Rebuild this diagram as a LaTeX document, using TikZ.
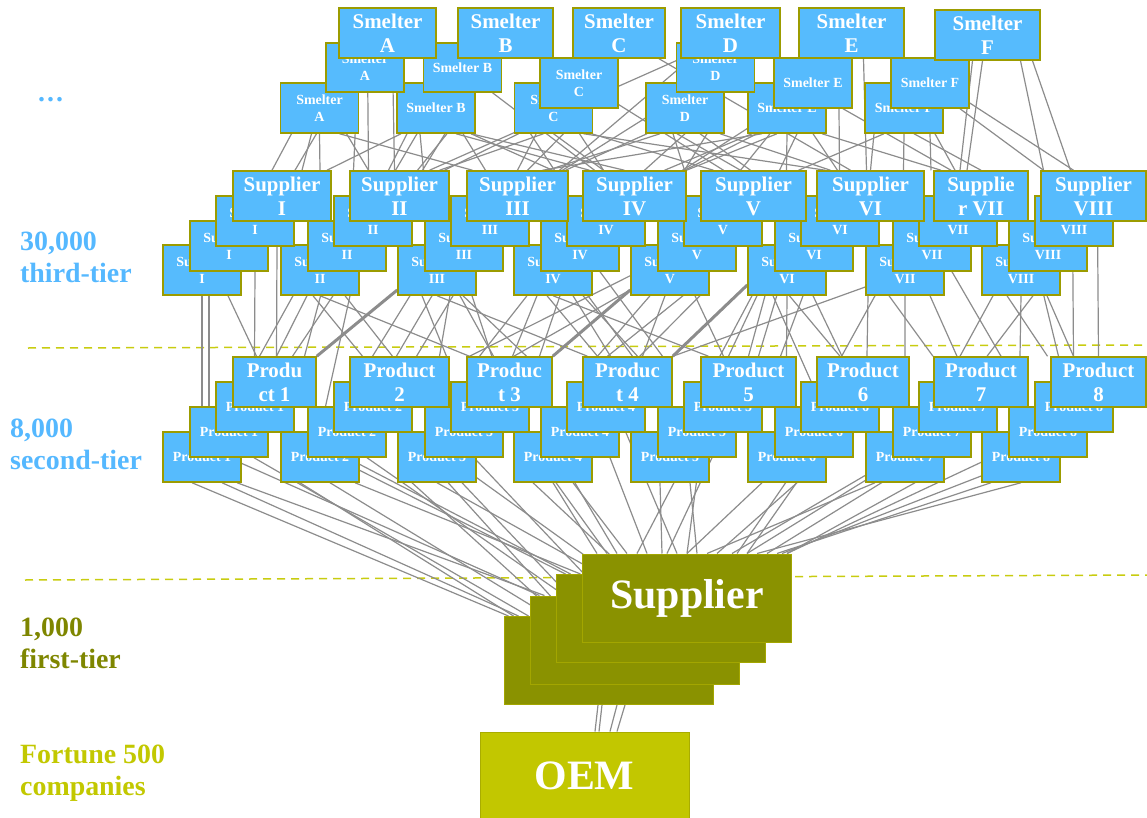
\documentclass[tikz,border=0pt]{standalone}
\usepackage{fontspec}
\setmainfont{Liberation Serif}
\usetikzlibrary{calc}
\definecolor{boxblue}{HTML}{56BBFD}
\definecolor{boxline}{HTML}{9C9C00}
\definecolor{stackfill}{HTML}{8A9200}
\definecolor{stackline}{HTML}{A3A600}
\definecolor{oemfill}{HTML}{C2C700}
\definecolor{oemline}{HTML}{A9AC00}
\definecolor{lblblue}{HTML}{55B8FF}
\definecolor{lblolive}{HTML}{7E8600}
\definecolor{lblyellow}{HTML}{C2C800}
\definecolor{dashcol}{HTML}{C8CC10}
\definecolor{linkgray}{HTML}{8C8C8C}
\pgfdeclarelayer{background}
\pgfsetlayers{background,main}
\tikzset{
  sbox/.style={draw=boxline, fill=boxblue, line width=1.5bp, inner sep=0pt, align=center,
    text=white, font=\bfseries\fontsize{14}{17}\selectfont, minimum width=78bp, minimum height=50bp},
  bbox/.style={sbox, font=\bfseries\fontsize{21}{24}\selectfont},
  stackbox/.style={draw=stackline, fill=stackfill, line width=1bp, inner sep=0pt,
    minimum width=209bp, minimum height=88bp, text=white, font=\bfseries\fontsize{42}{46}\selectfont},
  oembox/.style={draw=oemline, fill=oemfill, line width=1bp, inner sep=0pt,
    minimum width=209bp, minimum height=88bp, text=white, font=\bfseries\fontsize{42}{46}\selectfont},
  tierlbl/.style={anchor=north west, align=left, inner sep=0pt, font=\bfseries\fontsize{28}{32}\selectfont},
  link/.style={draw=linkgray, line width=1.2bp},
  thicklink/.style={link, line width=3bp},
  dashline/.style={draw=dashcol, line width=1.5bp, dash pattern=on 8bp off 6bp}
}
\newcommand{\lk}[5][]{\draw[link,#1] ([xshift=#3bp]#2.south) -- ([xshift=#5bp]#4.north);}
\def\suplist{1/163/233/98/I/Supplier/I,2/281/350/99/II/Supplier/II,3/398/467/101/III/Supplier/III,4/514/583/103/IV/Supplier/IV,5/631/701/105/V/Supplier/V,6/748/817/107/VI/Supplier/VI,7/866/934/94/VII/Supplie/r VII,8/982/1041/105/VIII/Supplier/VIII}
\def\prodlist{1/163/233/83/Produ/ct 1,2/281/350/99/Product/2,3/398/467/85/Produc/t 3,4/514/583/89/Produc/t 4,5/631/701/95/Product/5,6/748/817/92/Product/6,7/866/934/94/Product/7,8/982/1051/95/Product/8}
\begin{document}
\begin{tikzpicture}[x=1bp,y=-1bp]
\useasboundingbox (0,0) rectangle (1147,818);

% ---------- smelters ----------
\node[sbox] (smA1) at (319.5,108) {Smelter\\A};
\node[sbox] (smB1) at (436,108) {Smelter B};
\node[sbox] (smC1) at (553.5,108) {Smelter\\C};
\node[sbox] (smD1) at (685,108) {Smelter\\D};
\node[sbox] (smE1) at (787,108) {Smelter E};
\node[sbox] (smF1) at (904,108) {Smelter F};
\node[sbox,minimum height=49bp] (smA2) at (365,67.5) {Smelter\\A};
\node[sbox,minimum height=49bp] (smB2) at (462.5,67.5) {Smelter B};
\node[sbox] (smC2) at (579,83) {Smelter\\C};
\node[sbox,minimum height=49bp] (smD2) at (715.5,67.5) {Smelter\\D};
\node[sbox] (smE2) at (813,83) {Smelter E};
\node[sbox] (smF2) at (930,83) {Smelter F};
\node[bbox,minimum width=97bp] (smA3) at (387.5,33) {Smelter\\A};
\node[bbox,minimum width=95bp] (smB3) at (505.5,33) {Smelter\\B};
\node[bbox,minimum width=92bp] (smC3) at (619,33) {Smelter\\C};
\node[bbox,minimum width=99bp] (smD3) at (730.5,33) {Smelter\\D};
\node[bbox,minimum width=105bp] (smE3) at (851.5,33) {Smelter\\E};
\node[bbox,minimum width=105bp] (smF3) at (987.5,35) {Smelter\\F};

% ---------- suppliers ----------
\foreach \i/\x/\bx/\bw/\nm/\ta/\tb in \suplist {
  \node[sbox] (su\i1) at ({\x+39},270) {Supplier\\\nm};
}
\foreach \i/\x/\bx/\bw/\nm/\ta/\tb in \suplist {
  \node[sbox] (su\i2) at ({\x+66},246) {Supplier\\\nm};
}
\foreach \i/\x/\bx/\bw/\nm/\ta/\tb in \suplist {
  \node[sbox] (su\i3) at ({\x+92},221) {Supplier\\\nm};
}
\foreach \i/\x/\bx/\bw/\nm/\ta/\tb in \suplist {
  \node[bbox,minimum width=\bw bp] (su\i4) at ({\bx+\bw/2},196) {\ta\\\tb};
}

% ---------- products ----------
\foreach \i/\x/\bx/\bw/\ta/\tb in \prodlist {
  \node[sbox] (pr\i1) at ({\x+39},457) {Product \i};
}
\foreach \i/\x/\bx/\bw/\ta/\tb in \prodlist {
  \node[sbox] (pr\i2) at ({\x+66},432) {Product \i};
}
\foreach \i/\x/\bx/\bw/\ta/\tb in \prodlist {
  \node[sbox] (pr\i3) at ({\x+92},407) {Product \i};
}
\foreach \i/\x/\bx/\bw/\ta/\tb in \prodlist {
  \node[bbox,minimum width=\bw bp] (pr\i4) at ({\bx+\bw/2},382) {\ta\\\tb};
}

% ---------- first tier and OEM ----------
\node[stackbox] (st1) at (608.5,660.5) {};
\node[stackbox] (st2) at (634.5,640) {};
\node[stackbox] (st3) at (660.5,618.5) {};
\node[stackbox] (st4) at (687,598) {Supplier};
\node[oembox] (oem) at (584.5,776) {OEM};

% ---------- tier labels ----------
\node[anchor=west, inner sep=0pt, text=lblblue, font=\bfseries\fontsize{28}{32}\selectfont] (dots) at (38,100) {.\kern2bp.\kern2bp.};
\node[tierlbl, text=lblblue] (t3) at (20,232) {30,000\\third-tier};
\node[tierlbl, text=lblblue] (t2) at (10,419) {8,000\\second-tier};
\node[tierlbl, text=lblolive] (t1) at (20,618) {1,000\\first-tier};
\node[tierlbl, text=lblyellow] (t0) at (20,745) {Fortune 500\\companies};

\coordinate (d1a) at (28,348);
\coordinate (d1b) at (1147,345);
\coordinate (d2a) at (25,580);
\coordinate (d2b) at (1147,575);

\begin{pgfonlayer}{background}
\draw[dashline] (d1a) -- (d1b);
\draw[dashline] (d2a) -- (d2b);
% smelters -> suppliers
\lk{smA1}{-28}{su14}{-10}
\lk{smA1}{-3}{su14}{13}
\lk{smA1}{0}{su14}{38}
\lk{smA1}{-8}{su14}{20}
\lk{smA1}{27}{su24}{-31}
\lk{smA1}{20}{su34}{-45}
\lk{smA3}{-20}{su24}{-31}
\lk{smA2}{-8}{su24}{-46}
\lk{smA3}{5}{su24}{-5}
\lk{smB1}{-29}{su24}{-11}
\lk{smB1}{-19}{su24}{-4}
\lk{smB1}{9}{su24}{23}
\lk{smB1}{11}{su24}{18}
\lk{smB1}{-16}{su24}{24}
\lk{smB1}{27}{su34}{-32}
\lk{smB1}{35}{su44}{-10}
\lk{smB1}{35}{su34}{35}
\lk{smB1}{-35}{su14}{45}
\lk{smB1}{20}{su44}{-45}
\lk{smB3}{40}{su54}{-30}
\lk{smB2}{30}{su44}{-40}
\lk{smC1}{-23}{su34}{37}
\lk{smC1}{0}{su44}{-31}
\lk{smC1}{26}{su44}{-31}
\lk{smC1}{38}{su54}{-40}
\lk{smC1}{-10}{su24}{40}
\lk{smC1}{-35}{su24}{45}
\lk{smC1}{10}{su34}{10}
\lk{smC1}{30}{su64}{-45}
\lk{smC2}{-30}{su34}{0}
\lk{smC3}{40}{su64}{-20}
\lk{smD1}{-38}{su34}{48}
\lk{smD2}{-30}{su34}{45}
\lk{smD3}{-40}{su34}{42}
\lk{smD3}{-50}{su24}{30}
\lk{smD1}{-12}{su44}{50}
\lk{smD1}{22}{su44}{50}
\lk{smD1}{0}{su44}{10}
\lk{smD1}{-25}{su34}{30}
\lk{smD1}{-8}{su54}{-13}
\lk{smD1}{15}{su54}{-3}
\lk{smD1}{35}{su64}{-40}
\lk{smE1}{-30}{su44}{50}
\lk{smE1}{-10}{su44}{52}
\lk{smE1}{-35}{su44}{30}
\lk{smE2}{-35}{su44}{48}
\lk{smE1}{-17}{su54}{-13}
\lk{smE1}{10}{su54}{26}
\lk{smE1}{0}{su54}{33}
\lk{smE1}{26}{su64}{-33}
\lk{smE1}{-25}{su34}{25}
\lk{smE1}{35}{su74}{-40}
\lk{smE2}{26}{su64}{-31}
\lk{smE2}{30}{su74}{-30}
\lk{smE3}{12}{su64}{-4}
\lk{smE3}{50}{su84}{-20}
\lk{smF1}{0}{su64}{33}
\lk{smF1}{26}{su74}{-50}
\lk{smF1}{31}{su74}{-26}
\lk{smF1}{-30}{su64}{0}
\lk{smF1}{-20}{su54}{45}
\lk{smF1}{10}{su74}{0}
\lk{smF2}{30}{su84}{-50}
\lk{smF3}{-5}{su74}{-14}
\lk{smF3}{-15}{su74}{-21}
\lk{smF3}{33}{su84}{-50}
\lk{smF3}{45}{su84}{-23}
% suppliers -> products
\lk{su11}{0}{pr11}{0}
\lk{su11}{26}{pr14}{-18}
\lk{su12}{26}{pr14}{-20}
\lk{su12}{-20}{pr12}{-20}
\lk{su13}{22}{pr14}{2}
\lk{su21}{-27}{pr14}{-15}
\lk{su21}{-13}{pr14}{2}
\lk{su21}{13}{pr14}{18}
\lk{su21}{-7}{pr23}{10}
\lk{su21}{25}{pr24}{-7}
\lk{su21}{30}{pr21}{0}
\lk{su21}{0}{pr34}{-40}
\lk{su22}{-20}{pr14}{30}
\lk{su31}{-27}{pr24}{-27}
\lk{su31}{-15}{pr24}{47}
\lk{su31}{16}{pr24}{17}
\lk{su31}{23}{pr34}{-16}
\lk{su31}{26}{pr34}{17}
\lk{su31}{35}{pr33}{10}
\lk{su31}{-5}{pr22}{20}
\lk{su31}{0}{pr44}{-40}
\lk{su32}{-10}{pr24}{40}
\lk{su41}{-26}{pr34}{-30}
\lk{su41}{-16}{pr34}{3}
\lk{su41}{-6}{pr44}{-30}
\lk{su41}{7}{pr34}{30}
\lk{su41}{30}{pr44}{10}
\lk{su41}{20}{pr43}{20}
\lk{su41}{35}{pr44}{5}
\lk{su41}{0}{pr54}{-40}
\lk{su42}{20}{pr44}{35}
\lk{su52}{-35}{pr33}{-20}
\lk{su53}{-35}{pr34}{-40}
\lk{su51}{-20}{pr44}{-30}
\lk{su51}{-5}{pr44}{15}
\lk{su51}{13}{pr44}{-20}
\lk{su51}{25}{pr54}{-25}
\lk{su51}{30}{pr42}{10}
\lk{su54}{-26}{pr64}{-23}
\lk{su61}{-30}{pr54}{-20}
\lk{su61}{-22}{pr54}{0}
\lk{su61}{-14}{pr63}{-29}
\lk{su61}{0}{pr54}{38}
\lk{su61}{16}{pr54}{32}
\lk{su61}{26}{pr64}{-21}
\lk{su61}{-35}{pr51}{10}
\lk{su62}{-30}{pr54}{10}
\lk{su71}{-37}{pr64}{4}
\lk{su71}{-16}{pr74}{-48}
\lk{su71}{0}{pr64}{42}
\lk{su71}{25}{pr74}{-24}
\lk{su71}{-30}{pr62}{0}
\lk{su72}{20}{pr74}{20}
\lk{su81}{-28}{pr74}{-21}
\lk{su81}{-14}{pr84}{-51}
\lk{su81}{0}{pr74}{39}
\lk{su81}{12}{pr74}{6}
\lk{su81}{26}{pr84}{-25}
\lk{su82}{-10}{pr84}{-40}
\lk{su84}{-21}{pr84}{-25}
\lk{su84}{4}{pr84}{0}
\draw[thicklink] (pr14.north east) -- ([yshift=-20bp]su31.west);
\draw[thicklink] (pr34.north east) -- ([yshift=-20bp]su51.west);
\draw[thicklink] (pr44.north east) -- ([yshift=-15bp]su61.west);
\draw[link] (pr44.north east) -- ([yshift=-17bp]su71.west);
% products -> first tier
\lk{pr11}{20}{st1}{-90}
\lk{pr11}{35}{st2}{-90}
\lk{pr11}{-10}{st1}{-100}
\lk{pr12}{25}{st1}{-80}
\lk{pr12}{0}{st2}{-95}
\lk{pr13}{30}{st3}{-95}
\lk{pr21}{10}{st1}{-60}
\lk{pr21}{35}{st3}{-80}
\lk{pr21}{-20}{st1}{-95}
\lk{pr22}{20}{st2}{-70}
\lk{pr22}{0}{st3}{-90}
\lk{pr23}{30}{st1}{-40}
\lk{pr31}{0}{st3}{-60}
\lk{pr31}{25}{st1}{-20}
\lk{pr31}{-25}{st1}{-50}
\lk{pr32}{10}{st2}{-30}
\lk{pr32}{-15}{st3}{-50}
\lk{pr33}{30}{st4}{-80}
\lk{pr41}{-20}{st3}{-30}
\lk{pr41}{20}{st4}{-60}
\lk{pr41}{0}{st4}{-90}
\lk{pr42}{30}{st4}{-40}
\lk{pr42}{-20}{st4}{-70}
\lk{pr43}{20}{st4}{-10}
\lk{pr51}{-10}{st4}{-25}
\lk{pr51}{20}{st4}{10}
\lk{pr52}{-10}{st4}{-50}
\lk{pr52}{15}{st4}{-20}
\lk{pr53}{-20}{st4}{0}
\lk{pr61}{-25}{st4}{0}
\lk{pr61}{10}{st4}{30}
\lk{pr62}{0}{st4}{60}
\lk{pr63}{-20}{st4}{50}
\lk{pr71}{-30}{st4}{20}
\lk{pr71}{10}{st4}{100}
\lk{pr72}{-10}{st4}{80}
\lk{pr72}{-30}{st4}{60}
\lk{pr73}{-20}{st4}{45}
\lk{pr81}{-30}{st4}{90}
\lk{pr81}{0}{st4}{70}
\lk{pr82}{-20}{st4}{95}
\lk{pr83}{-30}{st4}{100}
% first tier -> OEM
\lk{st1}{-10.5}{oem}{10.5}
\lk{st1}{-6.5}{oem}{14.5}
\lk{st1}{8.5}{oem}{25.5}
\lk{st1}{16.5}{oem}{32.5}
\end{pgfonlayer}
\end{tikzpicture}
\end{document}
